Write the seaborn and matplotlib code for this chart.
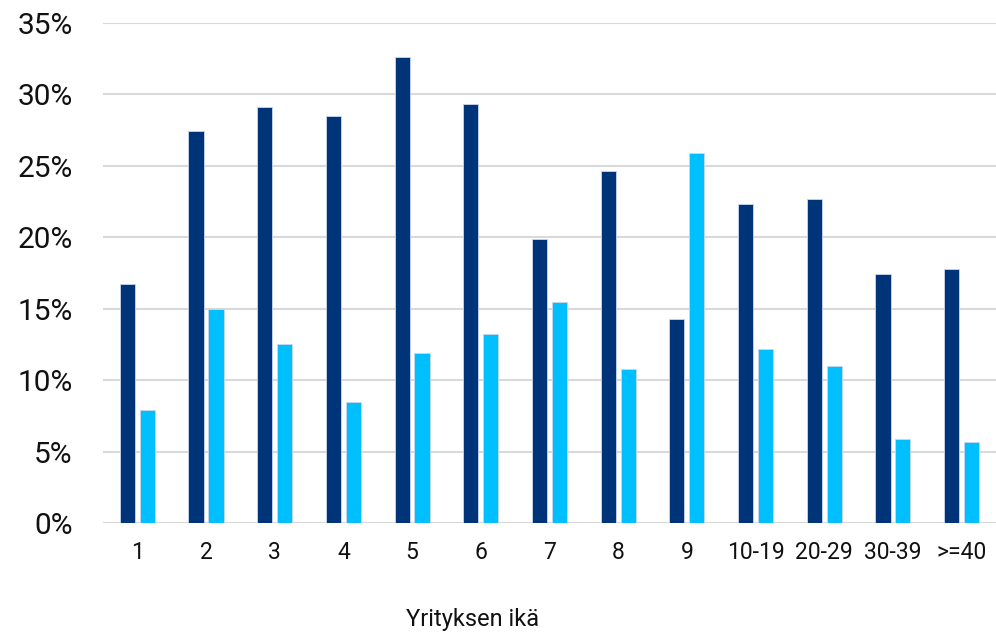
import matplotlib
matplotlib.use('Agg')
import matplotlib.pyplot as plt
import numpy as np
import pandas as pd
import seaborn as sns

ika = ['1', '2', '3', '4', '5', '6', '7', '8', '9', '10-19', '20-29', '30-39', '>=40']
sarja_1 = [16.7, 27.4, 29.1, 28.5, 32.6, 29.3, 19.9, 24.6, 14.3, 22.3, 22.7, 17.4, 17.8]
sarja_2 = [7.9, 15.0, 12.5, 8.5, 11.9, 13.2, 15.5, 10.8, 25.9, 12.2, 11.0, 5.9, 5.7]
y_ticks = [0, 5, 10, 15, 20, 25, 30, 35]

df = pd.DataFrame({
    'ika': ika * 2,
    'osuus': sarja_1 + sarja_2,
    'sarja': ['Sarja 1'] * len(ika) + ['Sarja 2'] * len(ika),
})

sns.set_style('white')
plt.rcParams['font.family'] = ['Roboto', 'DejaVu Sans']

fig = plt.figure(figsize=(9.96, 6.34), dpi=100)
ax = fig.add_axes([0.1034, 0.175, 0.8966, 0.789])

sns.barplot(data=df, x='ika', y='osuus', hue='sarja', order=ika,
            palette=['#003478', '#00BFFF'], saturation=1, width=0.58, gap=0.24,
            edgecolor='#c8d8ee', linewidth=0.6, legend=False, ax=ax, zorder=3)

ax.set_ylim(0, 35)
ax.set_xlim(-0.5, len(ika) - 0.5)
ax.set_yticks(y_ticks)
ax.set_yticklabels([f'{v}%' for v in y_ticks])
ax.yaxis.grid(True, color='#d9d9d9', linewidth=1.5, zorder=0)
ax.set_axisbelow(True)
for s in ax.spines.values():
    s.set_visible(False)
ax.tick_params(axis='y', labelsize=21.5, length=0, pad=22, labelcolor='#111111')
ax.tick_params(axis='x', labelsize=16.5, length=0, pad=13, labelcolor='#111111')
ax.set_ylabel('')
ax.set_xlabel('')
fig.text(0.474, 0.005, 'Yrityksen ikä', ha='center', va='bottom', fontsize=17, color='#111111')

plt.savefig('out.png', dpi=100)
